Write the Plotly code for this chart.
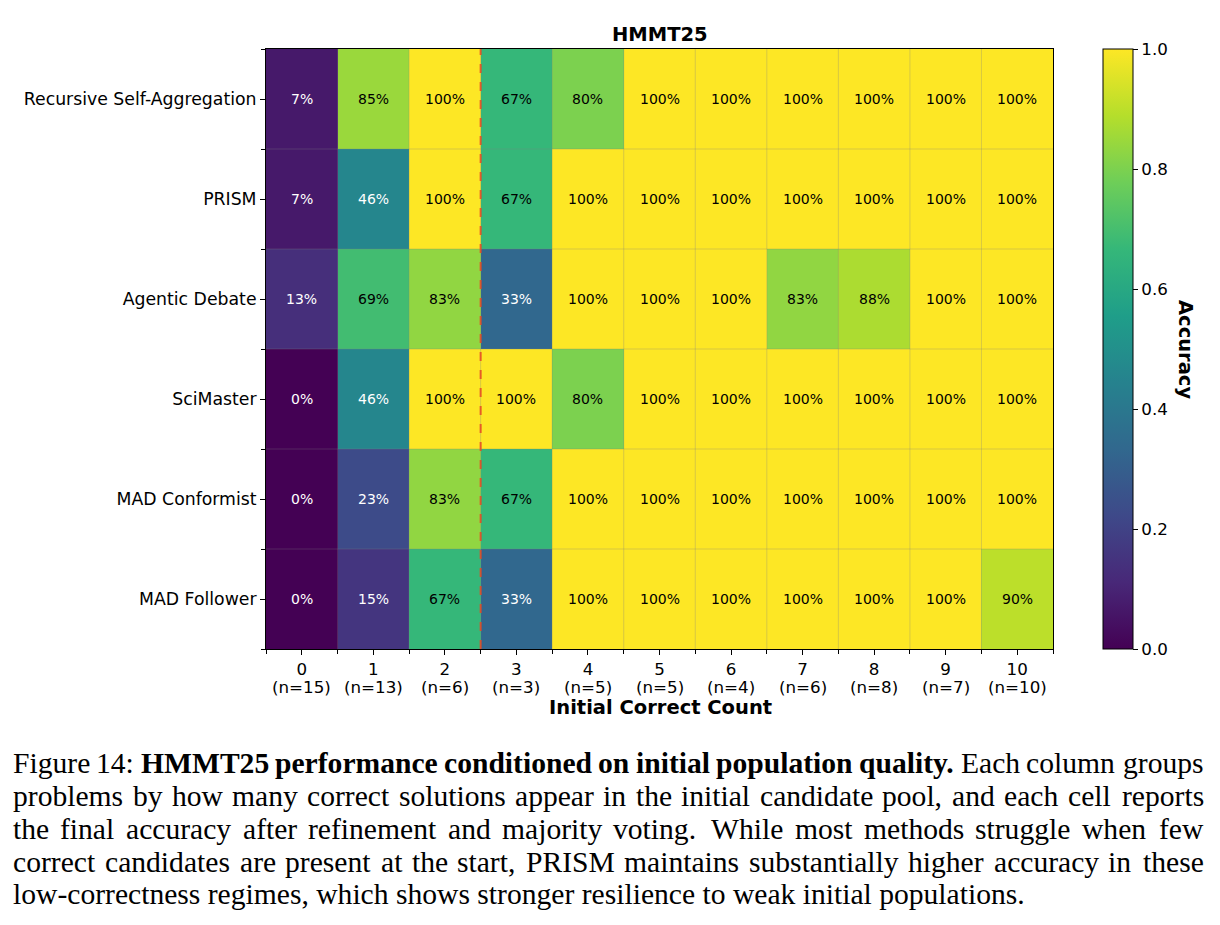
import plotly.graph_objects as go

# ---------------- data ----------------
methods = ["Recursive Self-Aggregation", "PRISM", "Agentic Debate",
           "SciMaster", "MAD Conformist", "MAD Follower"]
initial_correct = [0, 1, 2, 3, 4, 5, 6, 7, 8, 9, 10]
n_problems = [15, 13, 6, 3, 5, 5, 4, 6, 8, 7, 10]

acc_rsa        = [0.067, 0.846, 1.000, 0.667, 0.800, 1.000, 1.000, 1.000, 1.000, 1.000, 1.000]
acc_prism      = [0.067, 0.462, 1.000, 0.667, 1.000, 1.000, 1.000, 1.000, 1.000, 1.000, 1.000]
acc_debate     = [0.133, 0.692, 0.833, 0.333, 1.000, 1.000, 1.000, 0.833, 0.875, 1.000, 1.000]
acc_scimaster  = [0.000, 0.462, 1.000, 1.000, 0.800, 1.000, 1.000, 1.000, 1.000, 1.000, 1.000]
acc_conformist = [0.000, 0.231, 0.833, 0.667, 1.000, 1.000, 1.000, 1.000, 1.000, 1.000, 1.000]
acc_follower   = [0.000, 0.154, 0.667, 0.333, 1.000, 1.000, 1.000, 1.000, 1.000, 1.000, 0.900]

z = [acc_rsa, acc_prism, acc_debate, acc_scimaster, acc_conformist, acc_follower]

colorbar_ticks = [0.0, 0.2, 0.4, 0.6, 0.8, 1.0]

# caption (justified lines); words of line 1 with index 2..8 are bold
caption_lines = [
    "Figure 14: HMMT25 performance conditioned on initial population quality. Each column groups",
    "problems by how many correct solutions appear in the initial candidate pool, and each cell reports",
    "the final accuracy after refinement and majority voting. While most methods struggle when few",
    "correct candidates are present at the start, PRISM maintains substantially higher accuracy in these",
    "low-correctness regimes, which shows stronger resilience to weak initial populations.",
]
caption_bold = {0: range(2, 9)}
sentence_gap_lines = {2}

# ---------------- layout helpers ----------------
W, H = 1220, 925
L, R, T, B = 266, 1053, 49, 649
FONT = "DejaVu Sans"
SERIF = "Liberation Serif"

# Times (Liberation Serif compatible) advance widths, 1/1000 em
TIMES = dict(zip("abcdefghijklmnopqrstuvwxyz",
                 [444, 500, 444, 500, 444, 333, 500, 500, 278, 278, 500, 278, 778,
                  500, 500, 500, 500, 333, 389, 278, 500, 500, 722, 500, 500, 444]))
TIMES.update({"A": 722, "E": 611, "F": 556, "H": 722, "I": 333, "M": 889, "P": 556,
              "R": 667, "S": 556, "T": 611, "W": 944, ":": 278, ",": 250, ".": 250,
              "-": 333, " ": 250})
TIMES.update({d: 500 for d in "0123456789"})
TIMES_B = dict(zip("abcdefghijklmnopqrstuvwxyz",
                   [500, 556, 444, 556, 444, 333, 500, 556, 278, 333, 556, 278, 833,
                    556, 500, 556, 556, 444, 389, 333, 556, 500, 722, 500, 500, 444]))
TIMES_B.update({"H": 778, "M": 944, "T": 667, ".": 250, " ": 250})
TIMES_B.update({d: 500 for d in "0123456789"})


def text_w(word, bold, size):
    tab = TIMES_B if bold else TIMES
    return sum(tab.get(ch, 500) for ch in word) / 1000.0 * size


def px(xp):
    return (xp - L) / (R - L)


def py(yp):
    return (B - yp) / (B - T)


rows = list(range(len(methods)))

fig = go.Figure()
fig.add_trace(go.Heatmap(
    z=z, x=initial_correct, y=rows,
    colorscale="Viridis", zmin=0, zmax=1,
    hoverinfo="skip",
    colorbar=dict(
        x=px(1103), xanchor="left", y=0.5, yanchor="middle",
        len=1, lenmode="fraction", thickness=30, thicknessmode="pixels",
        xpad=0, ypad=0,
        outlinecolor="black", outlinewidth=1,
        tickmode="array", tickvals=colorbar_ticks,
        ticktext=[f"{v:.1f}" for v in colorbar_ticks],
        ticks="outside", ticklen=5, tickcolor="black",
        tickfont=dict(family=FONT, size=16.7, color="black"),
    ),
))

annotations = []
# cell labels
for r, row in enumerate(z):
    for c, v in enumerate(row):
        annotations.append(dict(
            x=initial_correct[c], y=r, xref="x", yref="y",
            text=f"{v * 100:.0f}%", showarrow=False,
            font=dict(family=FONT, size=14, color="white" if v < 0.5 else "black"),
        ))

# second line of x tick labels: problem counts
for c, n in zip(initial_correct, n_problems):
    annotations.append(dict(
        x=c, y=py(687), xref="x", yref="paper",
        text=f"(n={n})", showarrow=False,
        xanchor="center", yanchor="middle",
        font=dict(family=FONT, size=16.7, color="black"),
    ))

# title, axis title, colorbar title
annotations.append(dict(x=px(660), y=py(35), xref="paper", yref="paper",
                        text="<b>HMMT25</b>", showarrow=False,
                        xanchor="center", yanchor="middle",
                        font=dict(family=FONT, size=19.5, color="black")))
annotations.append(dict(x=px(660), y=py(707), xref="paper", yref="paper",
                        text="<b>Initial Correct Count</b>", showarrow=False,
                        xanchor="center", yanchor="middle",
                        font=dict(family=FONT, size=19.5, color="black")))
annotations.append(dict(x=px(1186), y=0.5, xref="paper", yref="paper",
                        text="<b>Accuracy</b>", showarrow=False, textangle=90,
                        xanchor="center", yanchor="middle",
                        font=dict(family=FONT, size=19.5, color="black")))

# caption, justified word by word
cap_y = [763, 796, 829, 862, 894]
CAP_L, CAP_R = 14, 1203
CAP_SIZE = 29.6
OFF = 3  # annotation padding before glyphs
for k, (line, yp) in enumerate(zip(caption_lines, cap_y)):
    words = line.split()
    bold_idx = set(caption_bold.get(k, []))
    last_line = k == len(caption_lines) - 1
    if last_line:
        annotations.append(dict(x=px(CAP_L - OFF), y=py(yp), xref="paper", yref="paper",
                                text=line, showarrow=False, xanchor="left", yanchor="middle",
                                font=dict(family=SERIF, size=CAP_SIZE, color="black")))
        continue
    widths = [text_w(w, i in bold_idx, CAP_SIZE) for i, w in enumerate(words)]
    extra = [0.12 * CAP_SIZE if (w.endswith(".") and k in sentence_gap_lines) else 0.0
             for w in words[:-1]]
    gap = (CAP_R - CAP_L - sum(widths) - sum(extra)) / (len(words) - 1)
    xcur = CAP_L
    for i, w in enumerate(words):
        txt = f"<b>{w}</b>" if i in bold_idx else w
        if i == len(words) - 1:
            annotations.append(dict(x=px(CAP_R + OFF), y=py(yp), xref="paper", yref="paper",
                                    text=txt, showarrow=False, xanchor="right", yanchor="middle",
                                    font=dict(family=SERIF, size=CAP_SIZE, color="black")))
        else:
            annotations.append(dict(x=px(xcur - OFF), y=py(yp), xref="paper", yref="paper",
                                    text=txt, showarrow=False, xanchor="left", yanchor="middle",
                                    font=dict(family=SERIF, size=CAP_SIZE, color="black")))
            xcur += widths[i] + gap + extra[i]

shapes = []
grid = "rgba(128,128,128,0.3)"
for i in range(1, len(initial_correct)):
    shapes.append(dict(type="line", xref="x", yref="paper",
                       x0=i - 0.5, x1=i - 0.5, y0=0, y1=1,
                       line=dict(color=grid, width=1)))
for j in range(1, len(methods)):
    shapes.append(dict(type="line", xref="paper", yref="y",
                       x0=0, x1=1, y0=j - 0.5, y1=j - 0.5,
                       line=dict(color=grid, width=1)))
# dashed threshold line between 2 and 3
shapes.append(dict(type="line", xref="x", yref="paper",
                   x0=2.5, x1=2.5, y0=0, y1=1,
                   line=dict(color="rgba(232,70,35,0.85)", width=2, dash="dash")))

fig.update_layout(
    width=W, height=H,
    margin=dict(l=L, r=W - R, t=T, b=H - B, pad=0),
    paper_bgcolor="white", plot_bgcolor="white",
    font=dict(family=FONT, color="black"),
    annotations=annotations,
    shapes=shapes,
    showlegend=False,
)
fig.update_xaxes(
    range=[-0.5, len(initial_correct) - 0.5],
    tickmode="array", tickvals=initial_correct,
    ticktext=[str(c) for c in initial_correct],
    ticks="outside", ticklen=5, tickcolor="black", tickwidth=1,
    tickfont=dict(family=FONT, size=16.7, color="black"),
    ticklabelstandoff=0,
    minor=dict(tickmode="linear", tick0=-0.5, dtick=1, ticks="outside",
               ticklen=4, tickcolor="black", showgrid=False),
    showline=True, linecolor="black", linewidth=1, mirror=True,
    showgrid=False, zeroline=False, fixedrange=True,
)
fig.update_yaxes(
    range=[len(methods) - 0.5, -0.5],
    tickmode="array", tickvals=rows, ticktext=methods,
    ticks="outside", ticklen=5, tickcolor="black", tickwidth=1,
    tickfont=dict(family=FONT, size=17.3, color="black"),
    minor=dict(tickmode="linear", tick0=-0.5, dtick=1, ticks="outside",
               ticklen=4, tickcolor="black", showgrid=False),
    showline=True, linecolor="black", linewidth=1, mirror=True,
    showgrid=False, zeroline=False, fixedrange=True,
)

fig.write_html("out.html")
